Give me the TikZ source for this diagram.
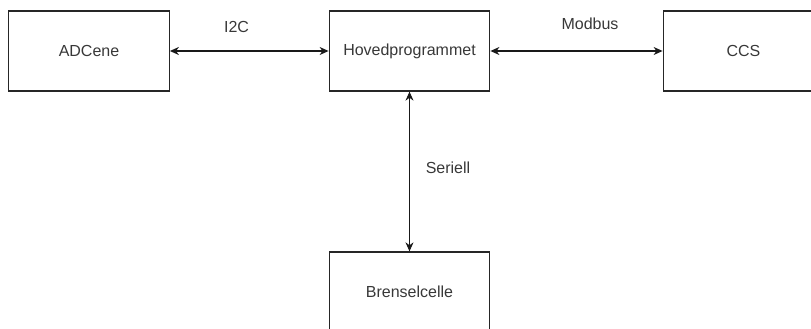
\documentclass[tikz,border=0pt]{standalone}
\usepackage{fontspec}
\setmainfont{Liberation Sans}
\usetikzlibrary{arrows.meta}
\begin{document}
\begin{tikzpicture}[x=1pt,y=-1pt,
  block/.style={draw=black!85, line width=1.3pt, minimum width=160.5pt, minimum height=80pt,
    inner sep=0pt, text=black!78, font=\fontsize{16}{19}\selectfont},
  link/.style={line width=1.1pt, draw=black!90, {Stealth[length=9pt,width=8pt]}-{Stealth[length=9pt,width=8pt]}},
  lbl/.style={text=black!78, font=\fontsize{16}{19}\selectfont, inner sep=0pt}]
  \useasboundingbox (0,0) rectangle (811,329);
  \node[block] (adc) at (89,51) {ADCene};
  \node[block] (hoved) at (409.5,51) {Hovedprogrammet};
  \node[block] (ccs) at (743.5,51) {CCS};
  \node[block] (bren) at (409.5,292) {Brenselcelle};
  \draw[link] (adc.east) -- (hoved.west);
  \draw[link] (hoved.east) -- (ccs.west);
  \draw[link] (hoved.south) -- (bren.north);
  \node[lbl] (i2c) at (236.5,26.5) {I2C};
  \node[lbl] (modbus) at (590,23.5) {Modbus};
  \node[lbl] (seriell) at (448,168) {Seriell};
\end{tikzpicture}
\end{document}
